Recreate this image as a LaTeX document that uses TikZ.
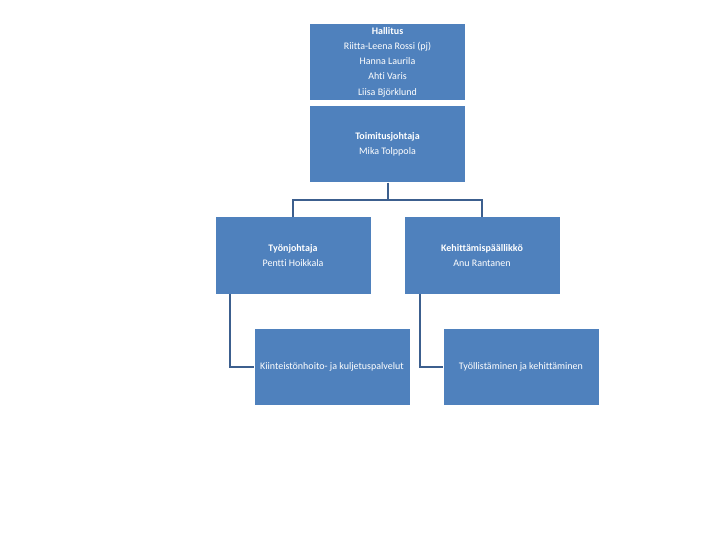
\documentclass[tikz,border=0pt]{standalone}
\usepackage{fontspec}
\setmainfont{Carlito}[Ligatures=NoCommon]
\definecolor{boxblue}{HTML}{4F81BD}
\definecolor{linkblue}{HTML}{3C5F8E}
\tikzset{
  orgbox/.style={draw=none, fill=boxblue, text=white, minimum width=155pt, minimum height=76pt, align=center, inner sep=0pt, font=\fontsize{10}{15.3}\selectfont},
  link/.style={draw=linkblue, line width=2pt}
}
\begin{document}
\begin{tikzpicture}[x=1pt,y=-1pt]
\useasboundingbox (0,0) rectangle (720,540);
\node[orgbox] (hall) at (387.5,62) {\textbf{Hallitus}\\Riitta-Leena Rossi (pj)\\Hanna Laurila\\Ahti Varis\\Liisa Björklund};
\node[orgbox] (toim) at (387.5,144.5) {\textbf{Toimitusjohtaja}\\Mika Tolppola};
\node[orgbox] (tyon) at (293,255.5) {\textbf{Työnjohtaja}\\Pentti Hoikkala};
\node[orgbox] (kehi) at (482,255.5) {\textbf{Kehittämispäällikkö}\\Anu Rantanen};
\node[orgbox] (kiin) at (332,366.5) {Kiinteistönhoito- ja kuljetuspalvelut};
\node[orgbox] (tyol) at (521,366.5) {Työllistäminen ja kehittäminen};
\coordinate (split) at (387.5,200);
\draw[link] (toim.south) -- (split);
\draw[link] (tyon.north) -- (tyon.north |- split) -- (kehi.north |- split) -- (kehi.north);
\draw[link] ([xshift=-63pt]tyon.south) |- (kiin.west);
\draw[link] ([xshift=-62pt]kehi.south) |- (tyol.west);
\end{tikzpicture}
\end{document}
